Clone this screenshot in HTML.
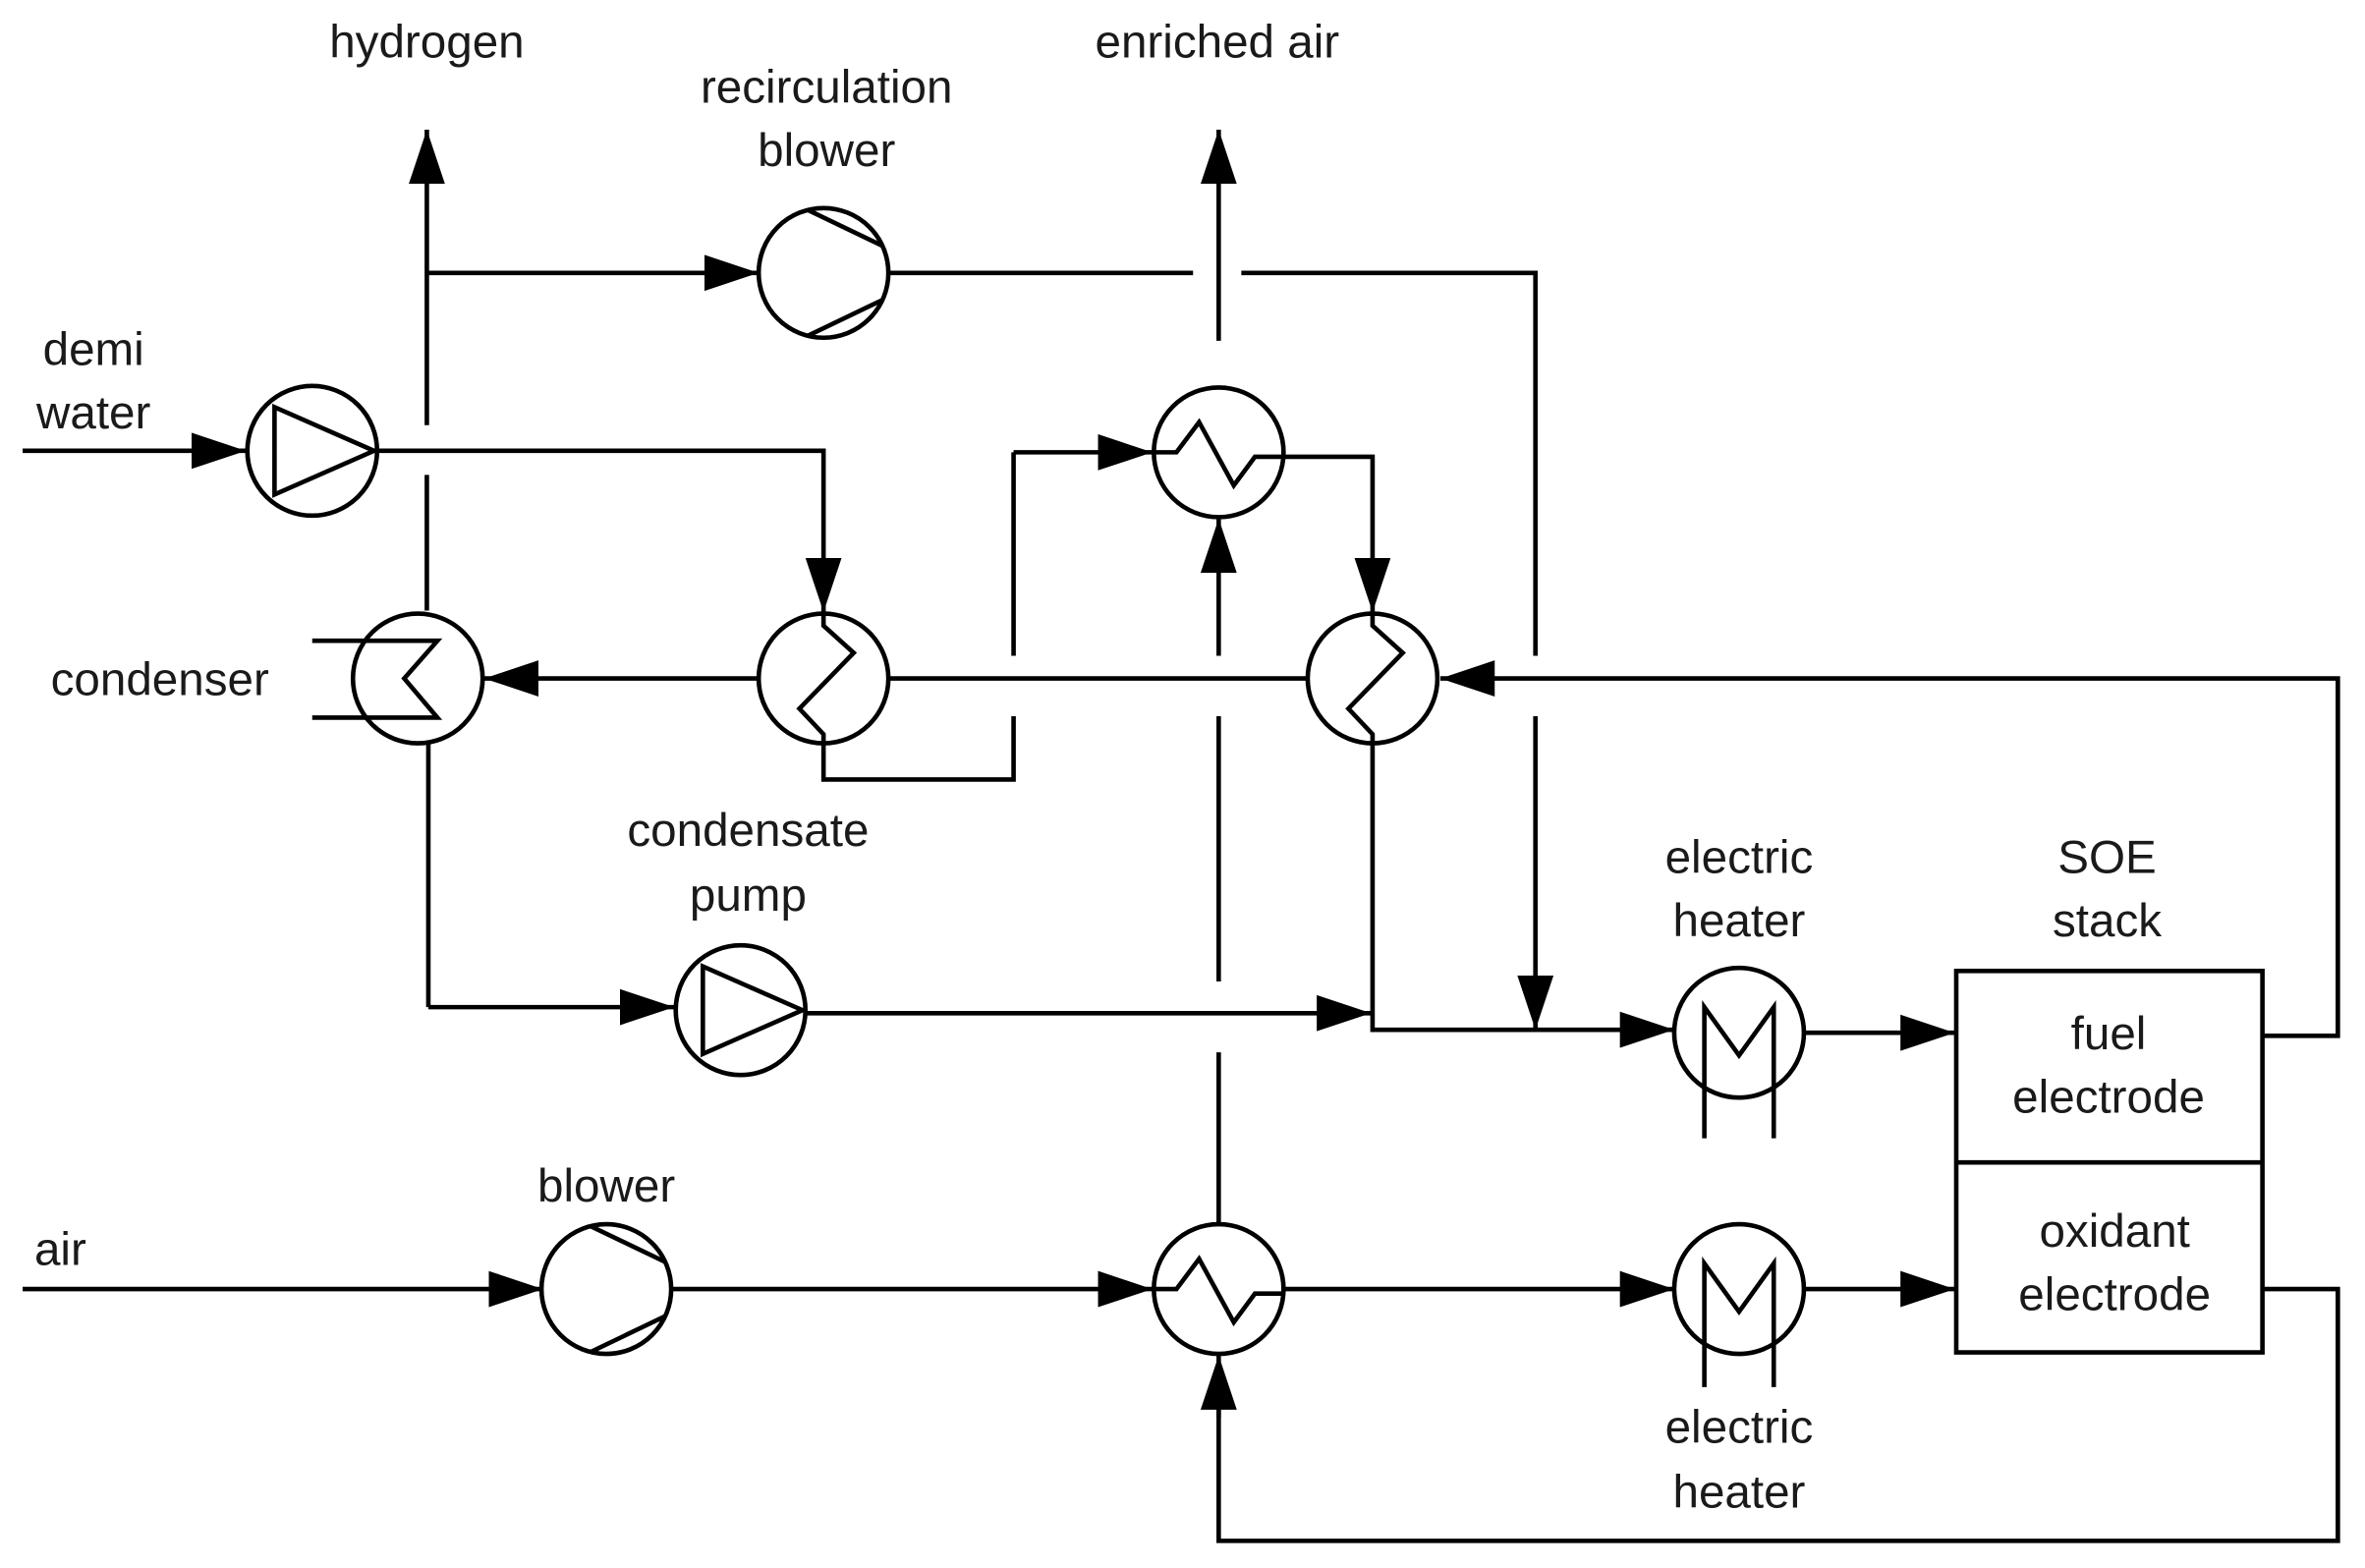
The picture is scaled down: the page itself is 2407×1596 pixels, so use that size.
<!DOCTYPE html>
<html><head><meta charset="utf-8"><style>
html,body{margin:0;padding:0;background:#fff;}
svg{display:block;}
text{font-family:"Liberation Sans",sans-serif;font-size:31px;fill:#1a1a1a;text-anchor:middle;}
</style></head><body>
<svg width="2407" height="1596" viewBox="0 0 1568 1040" preserveAspectRatio="none" xmlns="http://www.w3.org/2000/svg">
<defs>
<marker id="a" markerUnits="userSpaceOnUse" markerWidth="40" markerHeight="30" refX="36" refY="12" orient="auto">
<path d="M0,0 L36,12 L0,24 Z" fill="#000"/>
</marker>
</defs>
<g fill="none" stroke="#000" stroke-width="3">
<path d="M283,405 V315"/>
<line x1="283" y1="282" x2="283" y2="86" marker-end="url(#a)"/>
<line x1="283" y1="181" x2="503" y2="181" marker-end="url(#a)"/>
<circle cx="546" cy="181" r="43"/>
<path d="M535,139 L585,163 M535,223 L585,199"/>
<path d="M589,181 H791 M823,181 H1018 V435"/>
<line x1="1018" y1="475" x2="1018" y2="683" marker-end="url(#a)"/>
<line x1="808" y1="226" x2="808" y2="86" marker-end="url(#a)"/>
<line x1="15" y1="299" x2="163" y2="299" marker-end="url(#a)"/>
<circle cx="207" cy="299" r="43"/>
<path d="M182,270 L182,328 L248,299 Z"/>
<path d="M250,299 H546 V380"/>
<line x1="546" y1="370" x2="546" y2="406" marker-end="url(#a)"/>
<circle cx="546" cy="450" r="43"/>
<path d="M546,407 V415 L566,433 L530,470 L546,487 V517 H672 V475 M672,435 V300"/>
<line x1="672" y1="300" x2="764" y2="300" marker-end="url(#a)"/>
<line x1="503" y1="450" x2="321" y2="450" marker-end="url(#a)"/>
<line x1="589" y1="450" x2="867" y2="450"/>
<circle cx="277" cy="450" r="43"/>
<path d="M207,425 H290 L268,450 L290,476 H207"/>
<path d="M284,493 V668"/>
<line x1="284" y1="668" x2="447" y2="668" marker-end="url(#a)"/>
<circle cx="491" cy="670" r="43"/>
<path d="M466,641 L466,699 L532,670 Z"/>
<line x1="535" y1="672" x2="909" y2="672" marker-end="url(#a)"/>
<circle cx="808" cy="300" r="43"/>
<path d="M765,300 H780 L795,280 L818,322 L832,303 H910 V380"/>
<line x1="910" y1="370" x2="910" y2="406" marker-end="url(#a)"/>
<path d="M808,812 V698 M808,651 V475"/>
<line x1="808" y1="435" x2="808" y2="344" marker-end="url(#a)"/>
<circle cx="910" cy="450" r="43"/>
<path d="M910,407 V415 L930,433 L894,470 L910,487 V683 H1020"/>
<line x1="1018" y1="683" x2="1110" y2="683" marker-end="url(#a)"/>
<path d="M1500,687 H1550 V450 H990"/>
<line x1="990" y1="450" x2="955" y2="450" marker-end="url(#a)"/>
<circle cx="1153" cy="685" r="43"/>
<path d="M1130,755 V668 L1153,700 L1176,668 V755"/>
<line x1="1196" y1="685" x2="1296" y2="685" marker-end="url(#a)"/>
<rect x="1297" y="644" width="203" height="253"/>
<line x1="1297" y1="771" x2="1500" y2="771"/>
<line x1="15" y1="855" x2="360" y2="855" marker-end="url(#a)"/>
<circle cx="402" cy="855" r="43"/>
<path d="M391,813 L441,837 M391,897 L441,873"/>
<line x1="445" y1="855" x2="764" y2="855" marker-end="url(#a)"/>
<circle cx="808" cy="855" r="43"/>
<path d="M765,855 H780 L795,835 L818,877 L832,858 H850"/>
<line x1="850" y1="855" x2="1110" y2="855" marker-end="url(#a)"/>
<circle cx="1153" cy="855" r="43"/>
<path d="M1130,920 V838 L1153,870 L1176,838 V920"/>
<line x1="1196" y1="855" x2="1296" y2="855" marker-end="url(#a)"/>
<path d="M1500,855 H1550 V1022 H808 V930"/>
<line x1="808" y1="940" x2="808" y2="899" marker-end="url(#a)"/>
</g>
<text x="283" y="38">hydrogen</text>
<text x="548" y="68">recirculation</text>
<text x="548" y="110">blower</text>
<text x="807" y="38">enriched air</text>
<text x="62" y="242">demi</text>
<text x="62" y="284">water</text>
<text x="106" y="461">condenser</text>
<text x="496" y="561">condensate</text>
<text x="496" y="604">pump</text>
<text x="1153" y="579">electric</text>
<text x="1153" y="621">heater</text>
<text x="1397" y="579">SOE</text>
<text x="1397" y="621">stack</text>
<text x="1398" y="696">fuel</text>
<text x="1398" y="738">electrode</text>
<text x="1402" y="827">oxidant</text>
<text x="1402" y="869">electrode</text>
<text x="402" y="797">blower</text>
<text x="40" y="839">air</text>
<text x="1153" y="957">electric</text>
<text x="1153" y="1000">heater</text>
</svg>
</body></html>
